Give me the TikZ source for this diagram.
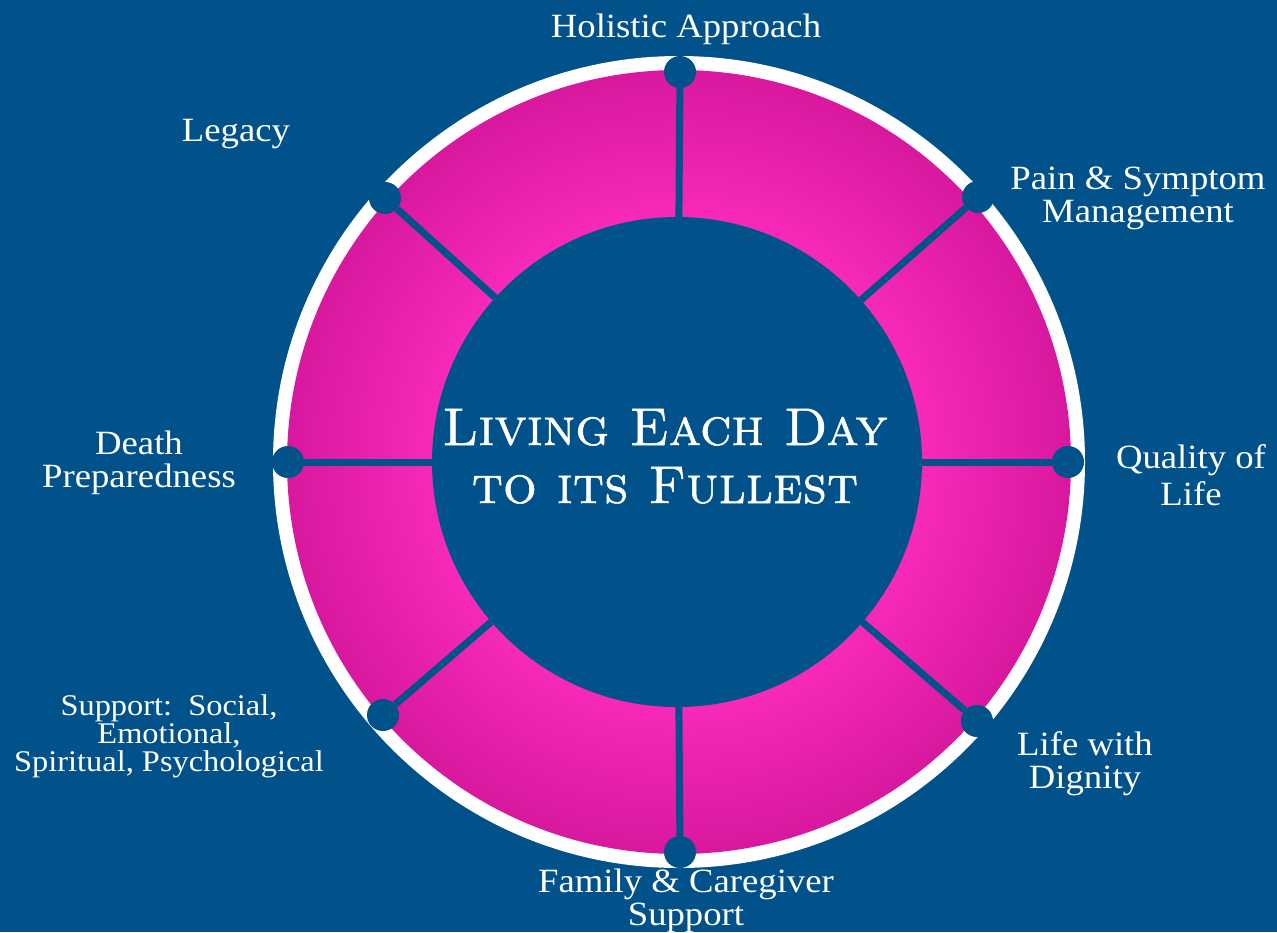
\documentclass[tikz,border=0pt]{standalone}
\usepackage{fontspec}
\newfontfamily\lblfont[FakeStretch=1.08]{Liberation Serif}
\newfontfamily\titlefont[FakeBold=1]{lmromancaps10-regular.otf}
\definecolor{bgblue}{HTML}{01518A}
\definecolor{pinkB}{HTML}{F92ABB}
\definecolor{pinkD}{HTML}{D8189F}
\begin{document}
\begin{tikzpicture}[x=1pt,y=-1pt,
  dot/.style={circle,fill=bgblue,minimum size=32pt,inner sep=0pt},
  spoke/.style={draw=bgblue,line width=7pt},
  lbl/.style={text=white,align=center,inner sep=0pt,anchor=base,font=\lblfont\fontsize{34}{33}\selectfont},
  slbl/.style={text=white,align=center,inner sep=0pt,anchor=base,font=\lblfont\fontsize{30}{28}\selectfont}]
\fill[bgblue] (0,0) rectangle (1277,932);
\useasboundingbox (0,0) rectangle (1277,932);
\fill[white] (679,462) circle[radius=406pt];
\foreach \r in {392,390,...,238} {
  \pgfmathsetmacro\t{(\r-238)/154*100}
  \fill[pinkD!\t!pinkB] (679,462) circle[radius=\r pt];
}
\node[circle,fill=bgblue,minimum size=490pt,inner sep=0pt] (ctr) at (677,462) {};
\node[text=white,align=center,inner sep=0pt,anchor=base,font=\titlefont\fontsize{53}{58}\selectfont] (title) at (665,503) {Living Each Day\\to its Fullest};
\node[dot] (d1) at (680,72) {};
\node[dot] (d2) at (978,197) {};
\node[dot] (d3) at (1068,462) {};
\node[dot] (d4) at (977,721) {};
\node[dot] (d5) at (680,852) {};
\node[dot] (d6) at (383,715) {};
\node[dot] (d7) at (288,462) {};
\node[dot] (d8) at (385,198) {};
\foreach \i in {1,...,8} \draw[spoke] (ctr) -- (d\i);
\node[lbl] (l1) at (686,37) {Holistic Approach};
\node[lbl] (l2) at (1138,222) {Pain \& Symptom\\Management};
\node[lbl] (l3) at (1191,505) {Quality of\\[4pt]Life};
\node[lbl] (l4) at (1085,788) {Life with\\Dignity};
\node[lbl] (l5) at (686,925) {Family \& Caregiver\\Support};
\node[slbl] (l6) at (169,771) {Support:\ \ Social,\\Emotional,\\Spiritual, Psychological};
\node[lbl] (l7) at (139,487) {Death\\Preparedness};
\node[lbl] (l8) at (236,141) {Legacy};
\end{tikzpicture}
\end{document}
